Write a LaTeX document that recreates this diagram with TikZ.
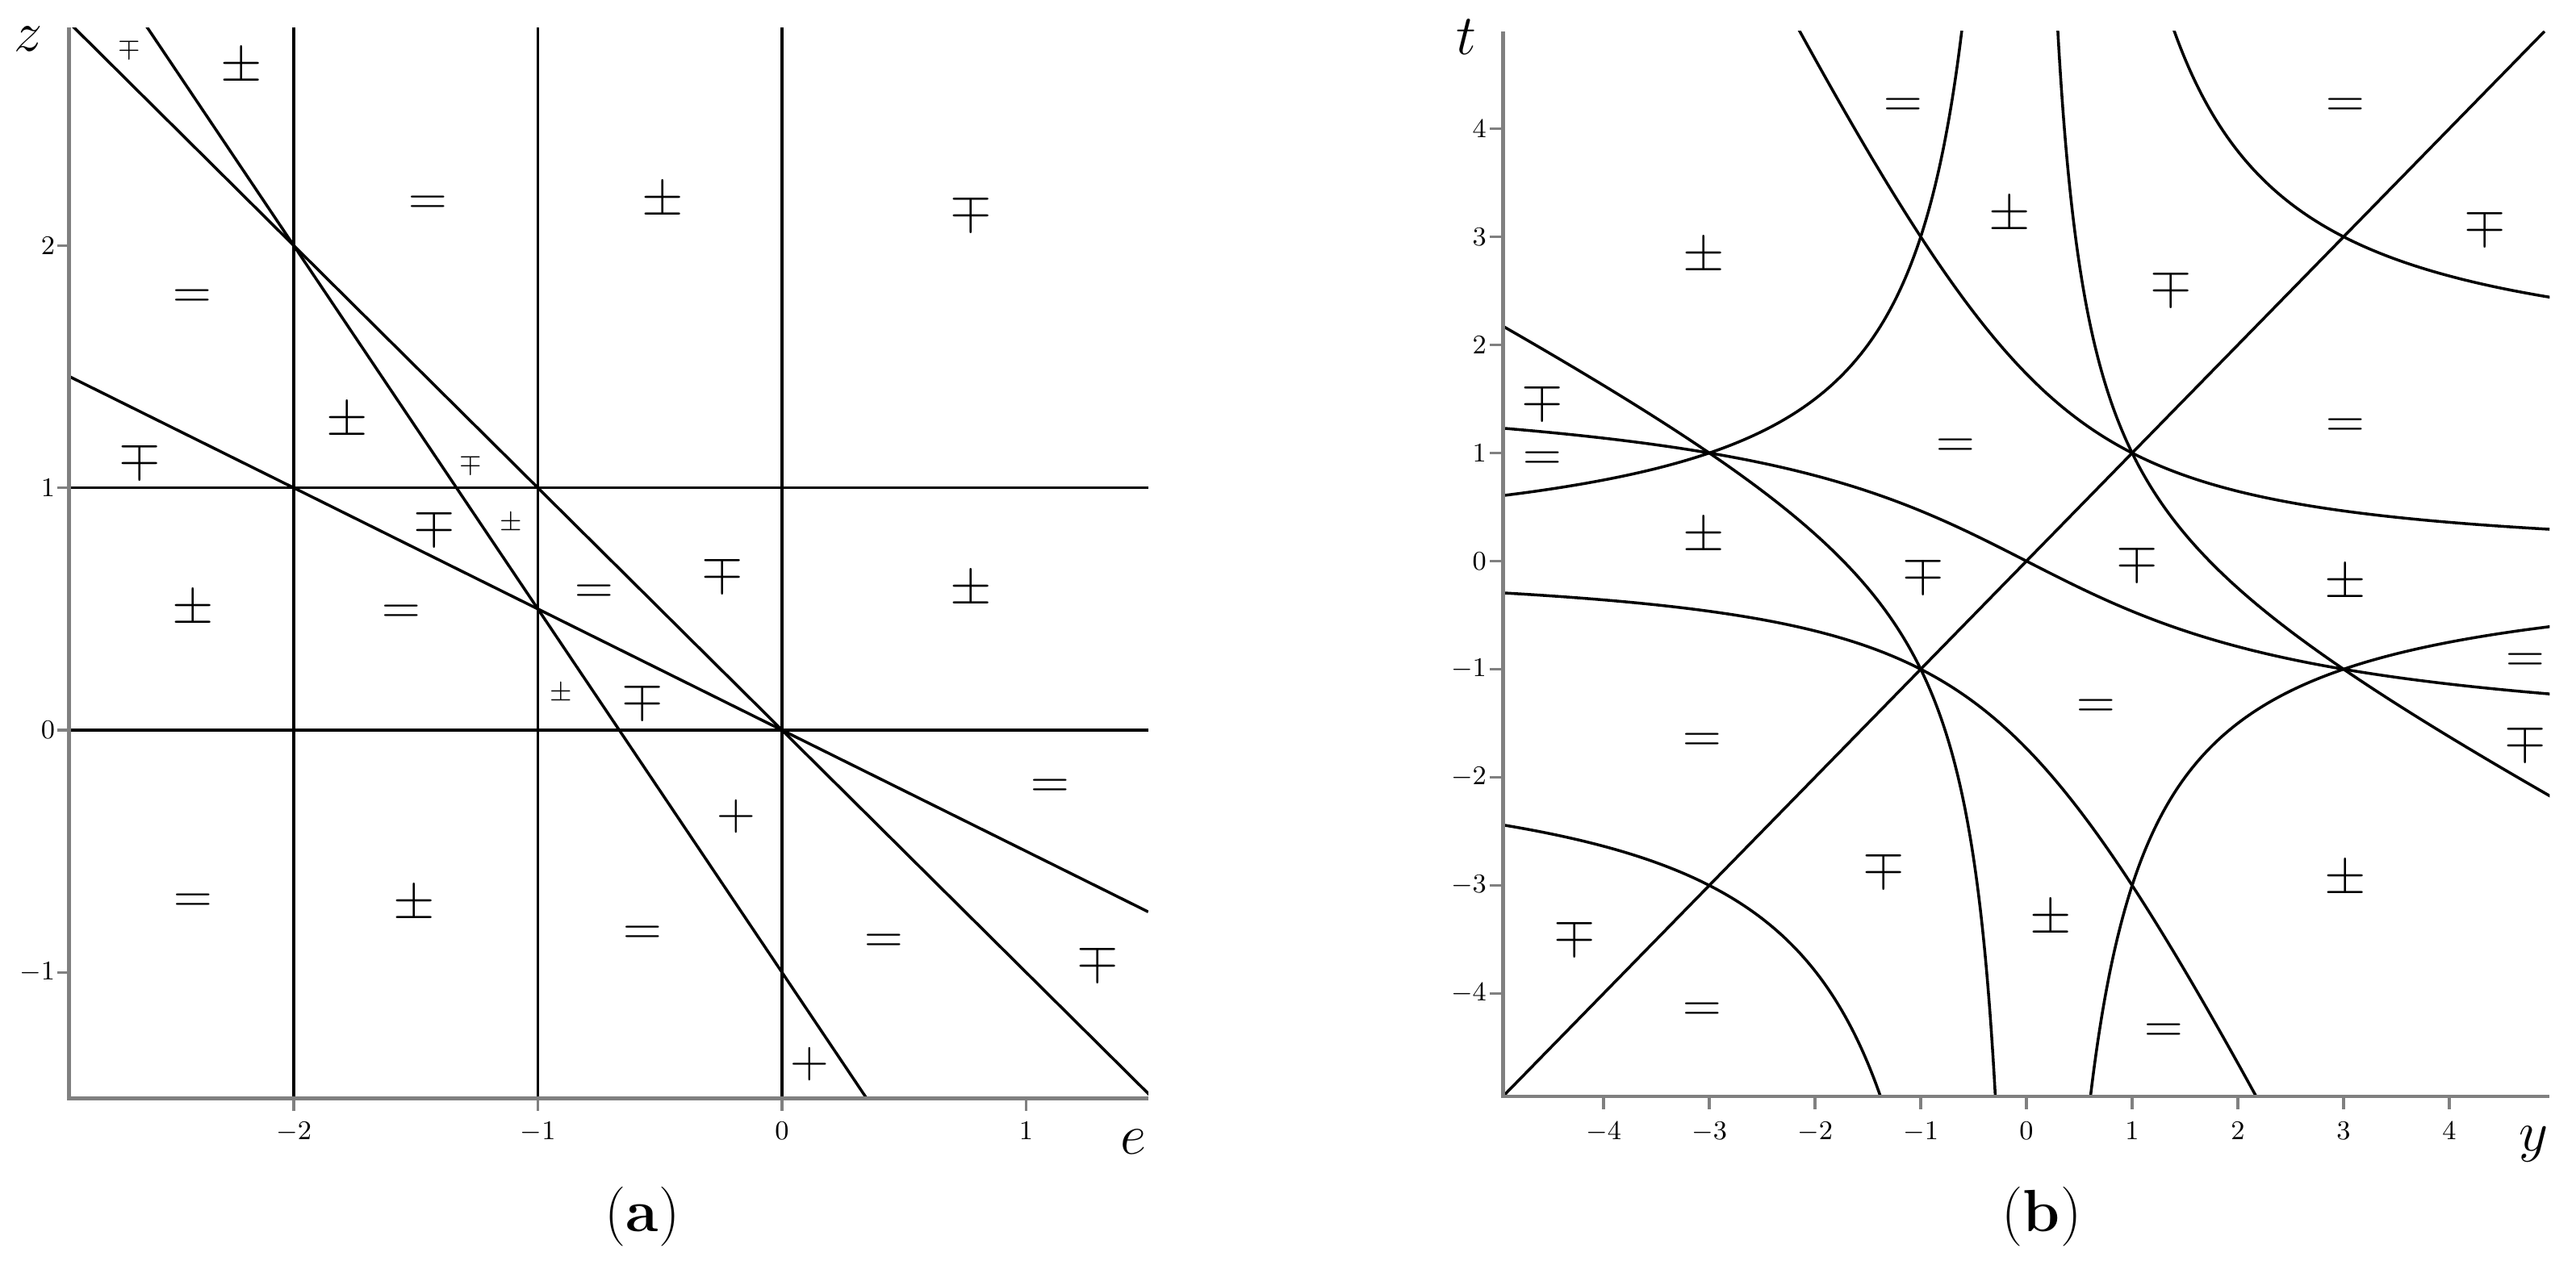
\RequirePackage{fix-cm}
\documentclass[tikz,border=0pt]{standalone}
\definecolor{axgray}{RGB}{128,128,128}
\tikzset{
  curve/.style={line width=1pt, black, line join=round},
  axisline/.style={line width=1.3pt, axgray},
  tickmark/.style={line width=0.9pt, axgray},
  sym/.style={inner sep=0pt, font=\fontsize{18.8}{20}\selectfont},
  smallsym/.style={inner sep=0pt, font=\fontsize{9.8}{11}\selectfont},
  ticklab/.style={inner sep=0pt, font=\fontsize{9.5}{10}\selectfont},
  axlab/.style={inner sep=0pt, font=\fontsize{20}{22}\selectfont},
  caplab/.style={inner sep=0pt, font=\fontsize{21}{23}\selectfont},
}
\begin{document}
\begin{tikzpicture}
\useasboundingbox (0,0) rectangle (31.92,15.67);
% ---------------- panel (a) ----------------
\begin{scope}[shift={(9.69,6.62)}, x=3.025cm, y=3.003cm]
  \begin{scope}
    \clip (-2.92,-1.52) rectangle (1.5,2.9);
    \draw[curve] (-2,-1.52) -- (-2,2.9);
    \draw[curve] (-1,-1.52) -- (-1,2.9);
    \draw[curve] (0,-1.52) -- (0,2.9);
    \draw[curve] (-2.92,1) -- (1.5,1);
    \draw[curve] (-2.92,0) -- (1.5,0);
    \draw[curve] (-2.92,2.92) -- (1.52,-1.52);
    \draw[curve] (-2.92,1.46) -- (1.5,-0.75);
    \draw[curve] (-2.6133,2.92) -- (0.3467,-1.52);
  \end{scope}
  \draw[axisline] (-2.92,2.9) -- (-2.92,-1.52) -- (1.5,-1.52);
  \foreach \v [count=\i] in {-1,0,1,2} {
    \draw[tickmark] (-2.92,\v) -- ++(-0.15cm,0);
    \node[ticklab, anchor=east, xshift=-0.17cm] (az\i) at (-2.92,\v) {$\v$};
  }
  \foreach \v [count=\i] in {-2,-1,0,1} {
    \draw[tickmark] (\v,-1.52) -- ++(0,-0.16cm);
    \node[ticklab, anchor=north, yshift=-0.29cm] (ae\i) at (\v,-1.52) {$\v$};
  }
  \foreach \px/\py/\s [count=\i] in {
    -2.215/2.734/\pm, -1.451/2.165/=, -2.415/1.778/=, -1.780/1.272/\pm,
    -2.631/1.119/\mp, -1.423/0.842/\mp, -0.489/2.181/\pm, 0.774/2.140/\mp,
    -0.245/0.649/\mp, -2.413/0.496/\pm, -1.560/0.476/=, -0.770/0.559/=,
    -2.413/-0.716/=, -1.507/-0.723/\pm, 0.774/0.576/\pm, -0.572/0.125/\mp,
    -0.188/-0.356/+, 1.100/-0.243/=, -0.572/-0.849/=, 0.417/-0.882/=,
    1.294/-0.957/\mp, 0.112/-1.379/+}
    \node[sym] (sa\i) at (\px,\py) {$\s$};
  \foreach \px/\py/\s [count=\i] in {
    -2.674/2.814/\mp, -1.276/1.099/\mp, -1.111/0.852/\pm, -0.906/0.150/\pm}
    \node[smallsym] (ssa\i) at (\px,\py) {$\s$};
\end{scope}
% ---------------- panel (b) ----------------
\begin{scope}[shift={(25.11,8.715)}, x=1.31cm, y=1.34cm]
  \begin{scope}
    \clip (-4.95,-4.95) rectangle (4.95,4.9);
    \draw[curve] (-4.95,-4.95) -- (4.9,4.9);
    \draw[curve] plot[domain=0.6:4.95, samples=120, smooth] ({-3/(\x)},{\x});
    \draw[curve] plot[domain=-4.95:-0.6, samples=120, smooth] ({-3/(\x)},{\x});
    \draw[curve] plot[domain=-2.2:4.95, samples=150, smooth] ({-(\x)+sqrt((\x)*(\x)+3)},{\x});
    \draw[curve] plot[domain=-4.95:2.2, samples=150, smooth] ({-(\x)-sqrt((\x)*(\x)+3)},{\x});
    \draw[curve] plot[domain=-2.2:4.95, samples=150, smooth] ({\x},{-(\x)+sqrt((\x)*(\x)+3)});
    \draw[curve] plot[domain=-4.95:2.2, samples=150, smooth] ({\x},{-(\x)-sqrt((\x)*(\x)+3)});
    \draw[curve] plot[domain=-1.24:1.24, samples=150, smooth] ({6*(\x)/((\x)*(\x)-3)},{\x});
    \draw[curve] plot[domain=2.43:4.95, samples=100, smooth] ({6*(\x)/((\x)*(\x)-3)},{\x});
    \draw[curve] plot[domain=-4.95:-2.43, samples=100, smooth] ({6*(\x)/((\x)*(\x)-3)},{\x});
  \end{scope}
  \draw[axisline] (-4.95,4.9) -- (-4.95,-4.95) -- (4.95,-4.95);
  \foreach \v [count=\i] in {-4,-3,-2,-1,0,1,2,3,4} {
    \draw[tickmark] (-4.95,\v) -- ++(-0.17cm,0);
    \node[ticklab, anchor=east, xshift=-0.2cm] (bt\i) at (-4.95,\v) {$\v$};
    \draw[tickmark] (\v,-4.95) -- ++(0,-0.16cm);
    \node[ticklab, anchor=north, yshift=-0.31cm] (by\i) at (\v,-4.95) {$\v$};
  }
  \foreach \px/\py/\s [count=\i] in {
    -1.166/4.19/=, -0.156/3.19/\pm, -3.055/2.81/\pm, -4.58/1.49/\mp,
    -4.58/0.92/=, -0.669/1.04/=, -3.055/0.22/\pm, 3.017/4.19/=,
    4.34/3.10/\mp, 1.367/2.54/\mp, 3.017/1.226/=, 1.05/0.0/\mp,
    -0.974/-0.115/\mp, -3.07/-1.68/=, -1.35/-2.84/\mp, -4.27/-3.47/\mp,
    -3.07/-4.17/=, 3.02/-0.21/\pm, 0.66/-1.37/=, 4.72/-0.94/=,
    4.72/-1.67/\mp, 3.02/-2.95/\pm, 0.23/-3.32/\pm, 1.30/-4.37/=}
    \node[sym] (sb\i) at (\px,\py) {$\s$};
\end{scope}
% ---------------- axis names and captions ----------------
\node[axlab] (labz) at (0.35,15.19) {$z$};
\node[axlab] (labe) at (14.04,1.52) {$e$};
\node[axlab] (labt) at (18.17,15.21) {$t$};
\node[axlab] (laby) at (31.40,1.49) {$y$};
\node[caplab] (capa) at (7.96,0.59) {(\textbf{a})};
\node[caplab] (capb) at (25.30,0.59) {(\textbf{b})};
\end{tikzpicture}
\end{document}
